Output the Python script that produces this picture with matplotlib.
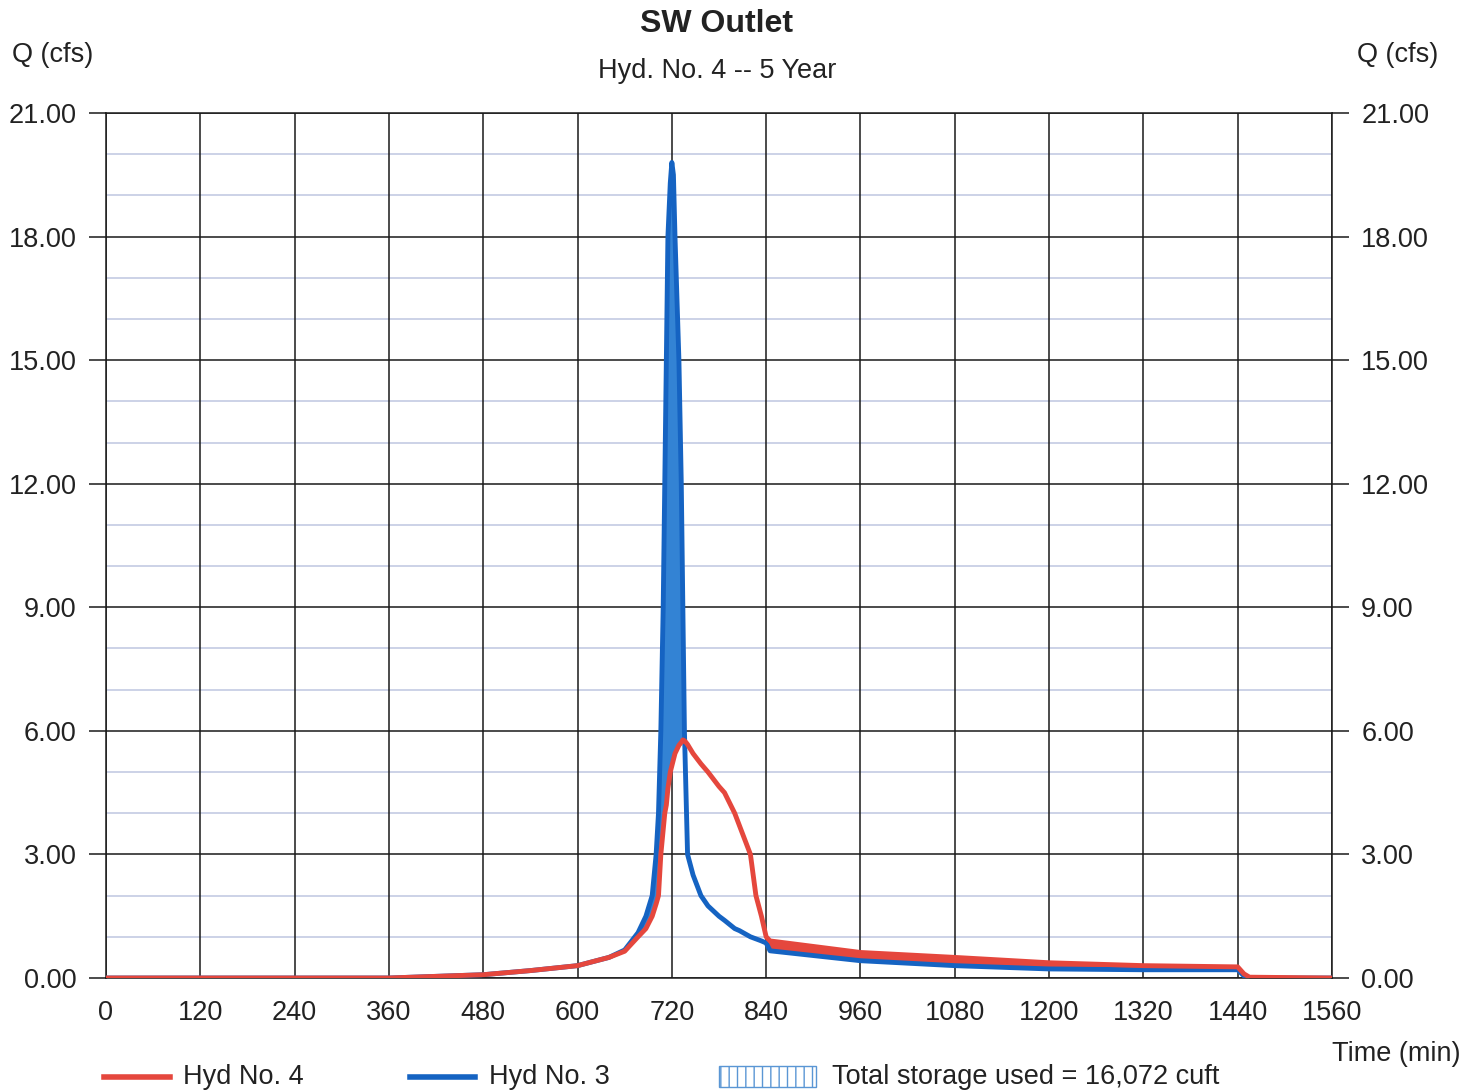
import numpy as np
import matplotlib
matplotlib.use("Agg")
import matplotlib.pyplot as plt
from matplotlib.lines import Line2D
from matplotlib.patches import Rectangle

plt.rcParams['font.family'] = ['Liberation Sans', 'DejaVu Sans']
plt.rcParams['hatch.color'] = '#5a96d4'

# ---- data ----
time_min = [0, 360, 480, 540, 600, 640, 660, 677, 687, 695, 700, 703, 706, 709, 711,
            713, 715, 718, 720, 722, 724, 729, 732, 734, 736, 738, 740, 747, 757,
            766, 780, 787, 800, 806, 820, 827, 834, 840, 845, 960, 1080, 1200,
            1320, 1440, 1448, 1455, 1560]
hyd3_inflow = [0, 0, 0.08, 0.18, 0.3, 0.5, 0.68, 1.1, 1.5, 2.0, 3.0, 4.0, 6.0, 9.0,
               12.0, 15.0, 18.0, 19.3, 19.8, 19.5, 18.0, 15.0, 12.0, 9.0, 6.0, 4.5,
               3.0, 2.5, 2.0, 1.75, 1.5, 1.4, 1.2, 1.15, 1.0, 0.95, 0.9, 0.85, 0.66,
               0.42, 0.3, 0.22, 0.2, 0.2, 0.05, 0, 0]
hyd4_outflow = [0, 0, 0.08, 0.18, 0.3, 0.5, 0.65, 1.0, 1.2, 1.5, 1.8, 2.0, 3.0, 3.6,
                4.0, 4.2, 4.6, 5.0, 5.15, 5.3, 5.45, 5.65, 5.72, 5.78, 5.76, 5.72,
                5.67, 5.45, 5.2, 5.0, 4.65, 4.5, 4.0, 3.7, 3.0, 2.0, 1.5, 1.0, 0.9,
                0.62, 0.5, 0.37, 0.3, 0.27, 0.1, 0.02, 0]
x_ticks = [0, 120, 240, 360, 480, 600, 720, 840, 960, 1080, 1200, 1320, 1440, 1560]
y_ticks = [0, 3, 6, 9, 12, 15, 18, 21]
y_minor = [1, 2, 4, 5, 7, 8, 10, 11, 13, 14, 16, 17, 19, 20]

title = "SW Outlet"
subtitle = "Hyd. No. 4 -- 5 Year"
storage_text = "Total storage used = 16,072 cuft"

RED = '#e5473d'
BLUE = '#1563c2'
FILL_BLUE = '#3383d4'
TXT = '#222222'
FS = 19.5

t = np.array(time_min, float)
q3 = np.array(hyd3_inflow, float)
q4 = np.array(hyd4_outflow, float)

W, H = 1477, 1091
fig = plt.figure(figsize=(W / 100, H / 100), dpi=100)
ax = fig.add_axes([106 / W, 1 - 978 / H, (1332 - 106) / W, (978 - 113) / H])

ax.set_xlim(0, 1560)
ax.set_ylim(0, 21)

# grid
for v in y_minor:
    ax.axhline(v, color='#c3cbe3', lw=1.2, zorder=1)
for v in y_ticks:
    ax.axhline(v, color='#1a1a1a', lw=1.1, zorder=1)
for v in x_ticks:
    ax.axvline(v, color='#1a1a1a', lw=1.1, zorder=1)

# fills
ax.fill_between(t, q4, q3, where=q3 >= q4, interpolate=True, color=FILL_BLUE, lw=0, zorder=2)
ax.fill_between(t, q3, q4, where=(t >= 840), interpolate=True, color=RED, lw=0, zorder=2)

ax.plot(t, q3, color=BLUE, lw=3.5, zorder=3, solid_joinstyle='round')
ax.plot(t, q4, color=RED, lw=3.5, zorder=4, solid_joinstyle='round')

ax.set_xticks(x_ticks)
ax.set_xticklabels([str(v) for v in x_ticks], fontsize=FS)
ax.set_yticks(y_ticks)
ax.set_yticklabels([f"{v:.2f}" for v in y_ticks], fontsize=FS)
ax.tick_params(axis='x', length=0, pad=16, colors=TXT)
ax.tick_params(axis='y', length=12, width=1.1, color='#1a1a1a', pad=9, labelcolor=TXT,
               left=True, right=True, labelleft=True, labelright=True)
for s in ax.spines.values():
    s.set_color('#1a1a1a')
    s.set_linewidth(1.1)

# titles and axis labels
fig.text(717 / W, 1 - 24 / H, title, ha='center', va='center', fontsize=23, fontweight='bold', color=TXT)
fig.text(717 / W, 1 - 71 / H, subtitle, ha='center', va='center', fontsize=FS, color=TXT)
fig.text(12 / W, 1 - 55 / H, "Q (cfs)", ha='left', va='center', fontsize=FS, color=TXT)
fig.text(1438 / W, 1 - 55 / H, "Q (cfs)", ha='right', va='center', fontsize=FS, color=TXT)
fig.text(1460 / W, 1 - 1054 / H, "Time (min)", ha='right', va='center', fontsize=FS, color=TXT)

# legend
ly = 1 - 1077 / H
fig.add_artist(Line2D([104 / W, 170 / W], [ly, ly], color=RED, lw=4, transform=fig.transFigure))
fig.text(183 / W, ly, "Hyd No. 4", ha='left', va='center', fontsize=FS, color=TXT)
fig.add_artist(Line2D([410 / W, 475 / W], [ly, ly], color=BLUE, lw=4, transform=fig.transFigure))
fig.text(489 / W, ly, "Hyd No. 3", ha='left', va='center', fontsize=FS, color=TXT)
fig.add_artist(Rectangle((719 / W, 1 - 1087 / H), 97 / W, 21 / H, transform=fig.transFigure,
                         facecolor='white', edgecolor='#5a96d4', hatch='||', lw=1.0))
fig.text(832 / W, ly, storage_text, ha='left', va='center', fontsize=FS, color=TXT)

fig.savefig('out.png', dpi=100, facecolor='white')
